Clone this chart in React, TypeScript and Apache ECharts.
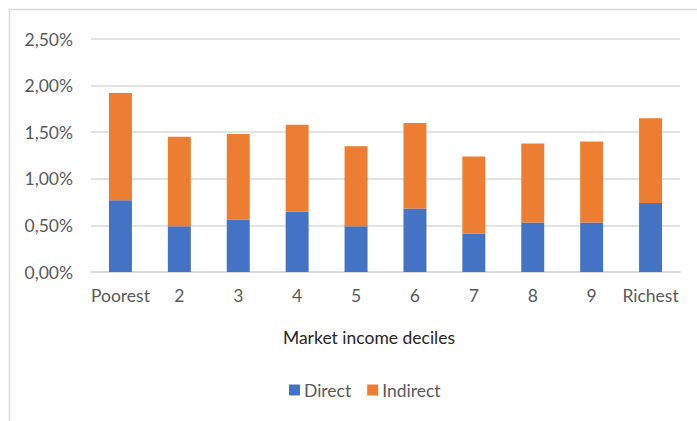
import React, { useEffect, useRef } from "react";
import * as echarts from "echarts";

const categories = ["Poorest", "2", "3", "4", "5", "6", "7", "8", "9", "Richest"];
const directValues = [0.77, 0.49, 0.56, 0.65, 0.49, 0.68, 0.41, 0.53, 0.53, 0.74];
const indirectValues = [1.15, 0.96, 0.92, 0.93, 0.86, 0.92, 0.83, 0.85, 0.87, 0.91];
const seriesNames = ["Direct", "Indirect"];
const axisTitle = "Market income deciles";

const FONT = "Lato, 'Noto Sans', sans-serif";
const FS = 17.5;

export default function App() {
  const ref = useRef<HTMLDivElement>(null);
  useEffect(() => {
    if (!ref.current) return;
    const chart = echarts.init(ref.current, undefined, { renderer: "svg" });
    chart.setOption({
      animation: false,
      backgroundColor: "#ffffff",
      textStyle: { fontFamily: FONT },
      grid: { left: 91, right: 17, top: 39, bottom: 149, containLabel: false },
      legend: {
        left: 289,
        top: 381,
        padding: 0,
        itemWidth: 11,
        itemHeight: 11,
        itemGap: 16,
        icon: "rect",
        textStyle: { color: "#595959", fontSize: FS, fontFamily: FONT, padding: [0, 0, 0, -1] },
        data: seriesNames,
      },
      xAxis: {
        type: "category",
        data: categories,
        axisLine: { show: true, lineStyle: { color: "#d9d9d9", width: 1.5 } },
        axisTick: { show: false },
        axisLabel: { color: "#595959", fontSize: FS, fontFamily: FONT, margin: 14, interval: 0 },
      },
      yAxis: {
        type: "value",
        min: 0,
        max: 2.5,
        interval: 0.5,
        axisLine: { show: false },
        axisTick: { show: false },
        splitLine: { lineStyle: { color: "#d9d9d9", width: 1.5 } },
        axisLabel: {
          color: "#595959",
          fontSize: FS,
          fontFamily: FONT,
          margin: 18,
          formatter: (v: number) => v.toFixed(2).replace(".", ",") + "%",
        },
      },
      series: [
        {
          name: seriesNames[0],
          type: "bar",
          stack: "total",
          data: directValues,
          barWidth: "39%",
          itemStyle: { color: "#4472C4" },
        },
        {
          name: seriesNames[1],
          type: "bar",
          stack: "total",
          data: indirectValues,
          barWidth: "39%",
          itemStyle: { color: "#ED7D31" },
        },
      ],
      graphic: [
        {
          type: "rect",
          shape: { x: 9.5, y: 9.5, width: 800, height: 600 },
          style: { fill: "none", stroke: "#d9d9d9", lineWidth: 1.5 },
          silent: true,
        },
        {
          type: "text",
          x: 369,
          y: 337,
          style: {
            text: axisTitle,
            fill: "#262626",
            fontSize: FS,
            fontFamily: FONT,
            align: "center",
            verticalAlign: "middle",
          },
        },
      ],
    });
    return () => chart.dispose();
  }, []);
  return (
    <div
      ref={ref}
      style={{ position: "absolute", left: 0, top: 0, width: 697, height: 421 }}
    />
  );
}
